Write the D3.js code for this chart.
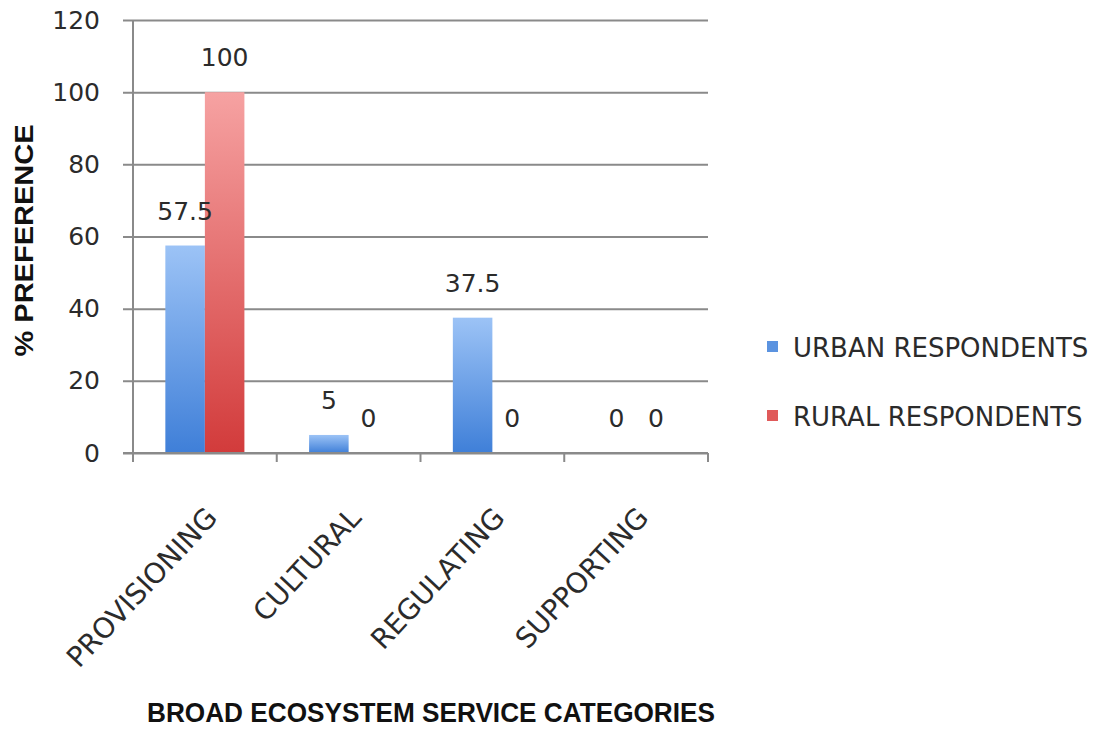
<!DOCTYPE html>
<html>
<head>
<meta charset="utf-8">
<script src="https://cdn.jsdelivr.net/npm/d3@7"></script>
<style>
  html, body { margin: 0; padding: 0; background: #fff; }
  svg { display: block; }
</style>
</head>
<body>
<svg id="chart" width="1100" height="729"></svg>
<script>
// Ecosystem service preference by respondent group
const categories = ["PROVISIONING", "CULTURAL", "REGULATING", "SUPPORTING"];
const seriesNames = ["URBAN RESPONDENTS", "RURAL RESPONDENTS"];
const urbanValues = [57.5, 5, 37.5, 0];
const ruralValues = [100, 0, 0, 0];
const yTicks = [0, 20, 40, 60, 80, 100, 120];
const yTitle = "% PREFERENCE";
const xTitle = "BROAD ECOSYSTEM SERVICE CATEGORIES";

const rows = categories.map((c, i) => ({
  category: c,
  values: [
    { series: seriesNames[0], value: urbanValues[i] },
    { series: seriesNames[1], value: ruralValues[i] }
  ]
}));

const svg = d3.select("#chart");
const plot = { left: 133, right: 708, top: 20, bottom: 453 };
const gridColor = "#8a8a8a";
const textColor = "#2b2b2b";
const numFont = "'DejaVu Sans', Verdana, sans-serif";
const boldFont = "'Liberation Sans', Arial, sans-serif";

const x0 = d3.scaleBand().domain(categories).range([plot.left, plot.right]).padding(0);
const bw = x0.bandwidth();
const x1 = d3.scaleBand().domain(seriesNames).range([bw * 0.225, bw * 0.775]).padding(0);
const y = d3.scaleLinear().domain([0, 120]).range([plot.bottom, plot.top]);

// gradients for the bar fills
const defs = svg.append("defs");
const fills = [
  { id: "gUrban", top: "#9cc3f6", bottom: "#3f7fd8" },
  { id: "gRural", top: "#f6a2a2", bottom: "#d23b3b" }
];
fills.forEach(f => {
  const g = defs.append("linearGradient").attr("id", f.id)
    .attr("x1", 0).attr("y1", 0).attr("x2", 0).attr("y2", 1);
  g.append("stop").attr("offset", "0%").attr("stop-color", f.top);
  g.append("stop").attr("offset", "100%").attr("stop-color", f.bottom);
});
const color = d3.scaleOrdinal().domain(seriesNames).range(["url(#gUrban)", "url(#gRural)"]);
const swatch = d3.scaleOrdinal().domain(seriesNames).range(["#5b93e0", "#e05a5a"]);

// y axis with gridlines
const yAxis = d3.axisLeft(y).tickValues(yTicks).tickSize(-(plot.right - plot.left + 10))
  .tickPadding(23).tickFormat(d3.format("d"));
const gy = svg.append("g").attr("transform", `translate(${plot.left - 10},0)`).call(yAxis);
gy.select(".domain").remove();
gy.selectAll(".tick line").attr("stroke", gridColor).attr("stroke-width", 2);
gy.selectAll(".tick text")
  .attr("fill", textColor).attr("font-family", numFont).attr("font-size", 25)
  .attr("x", -23);
// vertical axis line
svg.append("line")
  .attr("x1", plot.left).attr("x2", plot.left)
  .attr("y1", y(120)).attr("y2", y(0) + 9)
  .attr("stroke", gridColor).attr("stroke-width", 2);

// category boundary ticks on the x axis
const bounds = categories.map(c => x0(c)).concat([plot.right]);
svg.append("g").selectAll("line").data(bounds).join("line")
  .attr("x1", d => d).attr("x2", d => d)
  .attr("y1", y(0)).attr("y2", y(0) + 9)
  .attr("stroke", gridColor).attr("stroke-width", 2);

// bars
const groups = svg.append("g").selectAll("g").data(rows).join("g")
  .attr("transform", d => `translate(${x0(d.category)},0)`);
groups.selectAll("rect").data(d => d.values).join("rect")
  .attr("x", d => x1(d.series))
  .attr("width", x1.bandwidth())
  .attr("y", d => y(d.value))
  .attr("height", d => y(0) - y(d.value))
  .attr("fill", d => color(d.series));

// value labels
groups.selectAll("text.val").data(d => d.values).join("text")
  .attr("class", "val")
  .attr("x", d => x1(d.series) + x1.bandwidth() / 2)
  .attr("y", d => y(d.value) - 35)
  .attr("dy", "0.36em")
  .attr("text-anchor", "middle")
  .attr("fill", textColor)
  .attr("font-family", numFont)
  .attr("font-size", 25)
  .text(d => d.value);

// redraw x axis baseline above the bars
svg.append("line")
  .attr("x1", plot.left - 10).attr("x2", plot.right)
  .attr("y1", y(0)).attr("y2", y(0))
  .attr("stroke", gridColor).attr("stroke-width", 2);

// rotated category labels
svg.append("g").selectAll("text").data(categories).join("text")
  .attr("transform", d => `translate(${x0(d) + bw / 2 + 14},${y(0) + 66}) rotate(-47)`)
  .attr("text-anchor", "end")
  .attr("fill", textColor)
  .attr("font-family", numFont)
  .attr("font-size", 28)
  .text(d => d);

// axis titles
svg.append("text")
  .attr("transform", `translate(33,${(y(0) + y(120)) / 2 + 4}) rotate(-90)`)
  .attr("text-anchor", "middle")
  .attr("fill", "#111")
  .attr("font-family", boldFont)
  .attr("font-weight", "bold")
  .attr("font-size", 25)
  .attr("textLength", 232)
  .attr("lengthAdjust", "spacingAndGlyphs")
  .text(yTitle);

svg.append("text")
  .attr("x", 431).attr("y", 722)
  .attr("text-anchor", "middle")
  .attr("fill", "#111")
  .attr("font-family", boldFont)
  .attr("font-weight", "bold")
  .attr("font-size", 27)
  .attr("textLength", 568)
  .attr("lengthAdjust", "spacingAndGlyphs")
  .text(xTitle);

// legend
const legend = svg.append("g").selectAll("g").data(seriesNames).join("g")
  .attr("transform", (d, i) => `translate(767,${348 + i * 69})`);
legend.append("rect")
  .attr("x", 0).attr("y", -7).attr("width", 11).attr("height", 11)
  .attr("fill", d => swatch(d));
legend.append("text")
  .attr("x", 26).attr("y", 0).attr("dy", "0.36em")
  .attr("fill", textColor)
  .attr("font-family", numFont)
  .attr("font-size", 26)
  .text(d => d);
</script>
</body>
</html>
